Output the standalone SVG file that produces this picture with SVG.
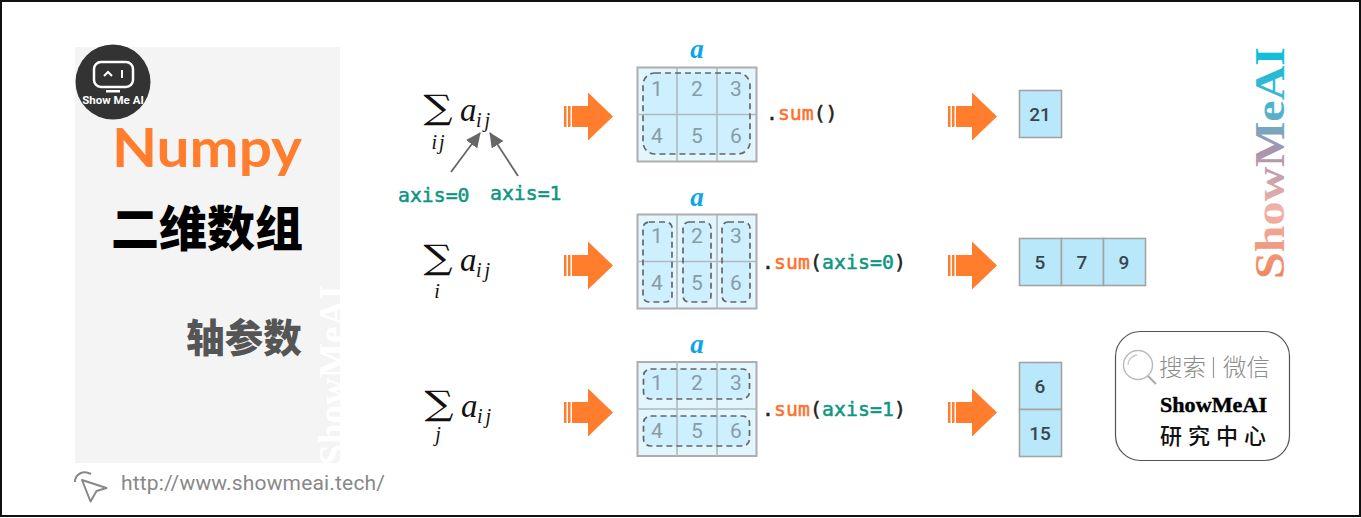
<svg xmlns="http://www.w3.org/2000/svg" width="1361" height="518" viewBox="0 0 1361 518">
<style>
.cell{fill:#e3f6fd;stroke:#adadad;stroke-width:2}
.div{stroke:#aebabf;stroke-width:1.600;fill:none}
.dash{fill:#cdeffe;stroke:none}
.grp{fill:none;stroke:#62676b;stroke-width:1.700;stroke-dasharray:6 4}
.num{font:400 21px Roboto,"Liberation Sans",sans-serif;fill:#889ca5;text-anchor:middle}
.res{fill:#b9e8fb;stroke:#a4a4a4;stroke-width:1.600}
.rest{font:500 19px Roboto,"Liberation Sans",sans-serif;fill:#37474f;text-anchor:middle}
.a{font:italic 700 27px "Liberation Serif",serif;fill:#0ba5ea;text-anchor:middle}
.code{font:400 19.8px "DejaVu Sans Mono",monospace;fill:#222;stroke:#222;stroke-width:.5}
.or{fill:#ff6f2c;stroke:#ff6f2c}.te{fill:#0e9581;stroke:#0e9581}
.axis{font:400 19.8px "DejaVu Sans Mono",monospace;fill:#0e9581;stroke:#0e9581;stroke-width:.5}
.sig{font:34px "DejaVu Serif",serif;fill:#111;text-anchor:middle}
.m{font:italic 33px "Liberation Serif",serif;fill:#111}
.s{font:italic 20px "Liberation Serif",serif;fill:#111;letter-spacing:3px}
.sc{font:italic 20px "Liberation Serif",serif;fill:#111;text-anchor:middle;letter-spacing:2px}
.ar{fill:#ff7d2d}
.ptr{stroke:#666;stroke-width:1.800;fill:none;marker-end:url(#tip)}
</style>
<defs>
<linearGradient id="wm" x1="0" y1="0" x2="1" y2="0">
<stop offset="0" stop-color="#f0855f"/><stop offset=".3" stop-color="#f0b3a8"/><stop offset=".55" stop-color="#ab93ad"/><stop offset=".72" stop-color="#50b4cd"/><stop offset="1" stop-color="#08c0dc"/>
</linearGradient>
<marker id="tip" markerUnits="userSpaceOnUse" markerWidth="16" markerHeight="16" refX="14" refY="7" orient="auto"><path d="M0 0L15 7L0 14Z" fill="#666"/></marker>
<g id="block"><rect x="0" y="-10.500" width="2.500" height="21" class="ar"/><rect x="4" y="-10.500" width="2.500" height="21" class="ar"/><path class="ar" d="M8-10.500H24V-24L49 0L24 24V10.500H8Z"/></g>
</defs>
<rect x="1" y="1" width="1359" height="515" fill="#fff" stroke="#111" stroke-width="2"/>

<g id="title-panel">
<rect x="75" y="47" width="265" height="416" fill="#f4f4f4"/>
<text transform="translate(346 465) rotate(-90)" font-family="Liberation Serif,serif" font-weight="700" font-size="41" fill="#fff" textLength="180" lengthAdjust="spacingAndGlyphs">ShowMeAI</text>
<text x="112" y="167" font-family="Lato,sans-serif" font-size="53" font-weight="700" fill="#ff7d2d" textLength="190" lengthAdjust="spacingAndGlyphs">Numpy</text>
<text x="207" y="246" font-family="'Noto Sans CJK SC',sans-serif" font-size="48" font-weight="900" fill="#000" text-anchor="middle">二维数组</text>
<text x="244" y="352" font-family="'Noto Sans CJK SC',sans-serif" font-size="38.500" font-weight="900" fill="#555" text-anchor="middle">轴参数</text>
</g>

<g id="logo">
<circle cx="113" cy="82" r="37.500" fill="#333"/>
<rect x="94" y="62" width="39" height="25" rx="7" fill="none" stroke="#fff" stroke-width="2.500"/>
<path d="M104 76l4-4l4 4" fill="none" stroke="#fff" stroke-width="2"/><path d="M122 70v8" stroke="#fff" stroke-width="2"/>
<rect x="106" y="90" width="14" height="2.500" fill="#fff"/>
<text x="113" y="104" font-family="Roboto,sans-serif" font-size="11.500" font-weight="700" fill="#fff" text-anchor="middle">Show Me AI</text>
</g>

<g id="formula-1">
<text class="sig" transform="translate(438 119) scale(1.200 1)">∑</text><text x="460" y="121" class="m">a</text><text x="476" y="127" class="s">ij</text><text x="439" y="149" class="sc">ij</text>
</g>
<g id="label-axis0"><text x="398" y="202" class="axis">axis=0</text></g>
<g id="label-axis1"><text x="490" y="200" class="axis">axis=1</text></g>
<g id="formula-2">
<text class="sig" transform="translate(438 269) scale(1.200 1)">∑</text><text x="460" y="271" class="m">a</text><text x="476" y="277" class="s">ij</text><text x="438" y="298" class="sc">i</text>
</g>
<g id="formula-3">
<text class="sig" transform="translate(439 415) scale(1.200 1)">∑</text><text x="461" y="417" class="m">a</text><text x="477" y="423" class="s">ij</text><text x="439" y="441" class="sc">j</text>
</g>

<g id="grid-1">
<text x="697" y="58" class="a">a</text>
<rect x="637.500" y="67.500" width="119" height="94" class="cell"/>
<rect x="643" y="73" width="107" height="81" rx="12" class="dash"/>
<path d="M677 67.500V161.500M717 67.500V161.500M637.500 114.500H756.500" class="div"/>
<rect x="643" y="73" width="107" height="81" rx="12" class="grp"/>
<text x="657" y="96" class="num">1</text><text x="697" y="96" class="num">2</text><text x="736" y="96" class="num">3</text>
<text x="657" y="143" class="num">4</text><text x="697" y="143" class="num">5</text><text x="736" y="143" class="num">6</text>
</g>
<g id="grid-2">
<text x="697" y="206" class="a">a</text>
<rect x="637.500" y="214.500" width="119" height="94" class="cell"/>
<rect x="643" y="222" width="29" height="80" rx="6" class="dash"/><rect x="683" y="222" width="28" height="80" rx="6" class="dash"/><rect x="722" y="222" width="28" height="80" rx="6" class="dash"/>
<path d="M677 214.500V308.500M717 214.500V308.500M637.500 261.500H756.500" class="div"/>
<rect x="643" y="222" width="29" height="80" rx="6" class="grp"/><rect x="683" y="222" width="28" height="80" rx="6" class="grp"/><rect x="722" y="222" width="28" height="80" rx="6" class="grp"/>
<text x="657" y="243" class="num">1</text><text x="697" y="243" class="num">2</text><text x="736" y="243" class="num">3</text>
<text x="657" y="290" class="num">4</text><text x="697" y="290" class="num">5</text><text x="736" y="290" class="num">6</text>
</g>
<g id="grid-3">
<text x="697" y="353" class="a">a</text>
<rect x="637.500" y="362" width="119" height="94" class="cell"/>
<rect x="643.500" y="369" width="106" height="30" rx="7" class="dash"/><rect x="643.500" y="416" width="106" height="30" rx="7" class="dash"/>
<path d="M677 362V456M717 362V456M637.500 409H756.500" class="div"/>
<rect x="643.500" y="369" width="106" height="30" rx="7" class="grp"/><rect x="643.500" y="416" width="106" height="30" rx="7" class="grp"/>
<text x="657" y="390" class="num">1</text><text x="697" y="390" class="num">2</text><text x="736" y="390" class="num">3</text>
<text x="657" y="438" class="num">4</text><text x="697" y="438" class="num">5</text><text x="736" y="438" class="num">6</text>
</g>

<g id="code-1"><text x="766" y="120" class="code">.<tspan class="or">sum</tspan>()</text></g>
<g id="code-2"><text x="762" y="269" class="code" textLength="144">.<tspan class="or">sum</tspan>(<tspan class="te">axis=0</tspan>)</text></g>
<g id="code-3"><text x="762" y="416" class="code" textLength="144">.<tspan class="or">sum</tspan>(<tspan class="te">axis=1</tspan>)</text></g>

<g id="result-1"><rect x="1019.500" y="90.500" width="42" height="47" class="res"/><text x="1040" y="121" class="rest">21</text></g>
<g id="result-2"><rect x="1019.500" y="238.500" width="42" height="47" class="res"/><rect x="1061.500" y="238.500" width="42" height="47" class="res"/><rect x="1103.500" y="238.500" width="42" height="47" class="res"/>
<text x="1040" y="269" class="rest">5</text><text x="1082" y="269" class="rest">7</text><text x="1124" y="269" class="rest">9</text></g>
<g id="result-3"><rect x="1019.500" y="362.500" width="42" height="47" class="res"/><rect x="1019.500" y="409.500" width="42" height="47" class="res"/>
<text x="1040" y="393" class="rest">6</text><text x="1040" y="440" class="rest">15</text></g>

<g id="connectors">
<use href="#block" x="564" y="116.500"/><use href="#block" x="564" y="265.500"/><use href="#block" x="564" y="412.500"/>
<use href="#block" x="948" y="116.500"/><use href="#block" x="948" y="265.500"/><use href="#block" x="948" y="412.500"/>
<path d="M451 172L480 133" class="ptr"/><path d="M518 176L490 133" class="ptr"/>
</g>

<g id="watermark-right">
<text transform="translate(1284 279) rotate(-90)" font-family="Liberation Serif,serif" font-weight="700" font-size="42" fill="url(#wm)" textLength="232" lengthAdjust="spacingAndGlyphs">ShowMeAI</text>
</g>

<g id="search-card">
<rect x="1115.500" y="331.500" width="174" height="129" rx="25" fill="#fff" stroke="#555" stroke-width="1.200"/>
<circle cx="1138" cy="365" r="14.500" fill="none" stroke="#bbb" stroke-width="1.500"/><path d="M1128 365a10 10 0 0 1 9-10" fill="none" stroke="#ccc" stroke-width="1.500"/><path d="M1148 376L1156 384" stroke="#aaa" stroke-width="2"/>
<text x="1159" y="376" font-family="'Noto Sans CJK SC',sans-serif" font-size="23.500" font-weight="300" fill="#8c8c8c">搜索</text>
<path d="M1213.500 357V378" stroke="#999" stroke-width="1.200"/>
<text x="1223" y="376" font-family="'Noto Sans CJK SC',sans-serif" font-size="23.500" font-weight="300" fill="#8c8c8c">微信</text>
<text x="1160" y="412" font-family="'Liberation Serif',serif" font-size="21.500" font-weight="700" fill="#000" stroke="#000" stroke-width=".4" textLength="107" lengthAdjust="spacingAndGlyphs">ShowMeAI</text>
<text x="1160" y="444" font-family="'Noto Sans CJK SC',sans-serif" font-size="22" font-weight="500" fill="#111" letter-spacing="6">研究中心</text>
</g>

<g id="site-link">
<path d="M82 480L106.500 488L96.500 491L90.500 501.500ZM75 482C75 474 83 470 91 474" fill="none" stroke="#888" stroke-width="2" stroke-linejoin="round"/>
<text x="121" y="490" font-family="Roboto,sans-serif" font-size="21" fill="#888" textLength="264">http://www.showmeai.tech/</text>
</g>
</svg>
